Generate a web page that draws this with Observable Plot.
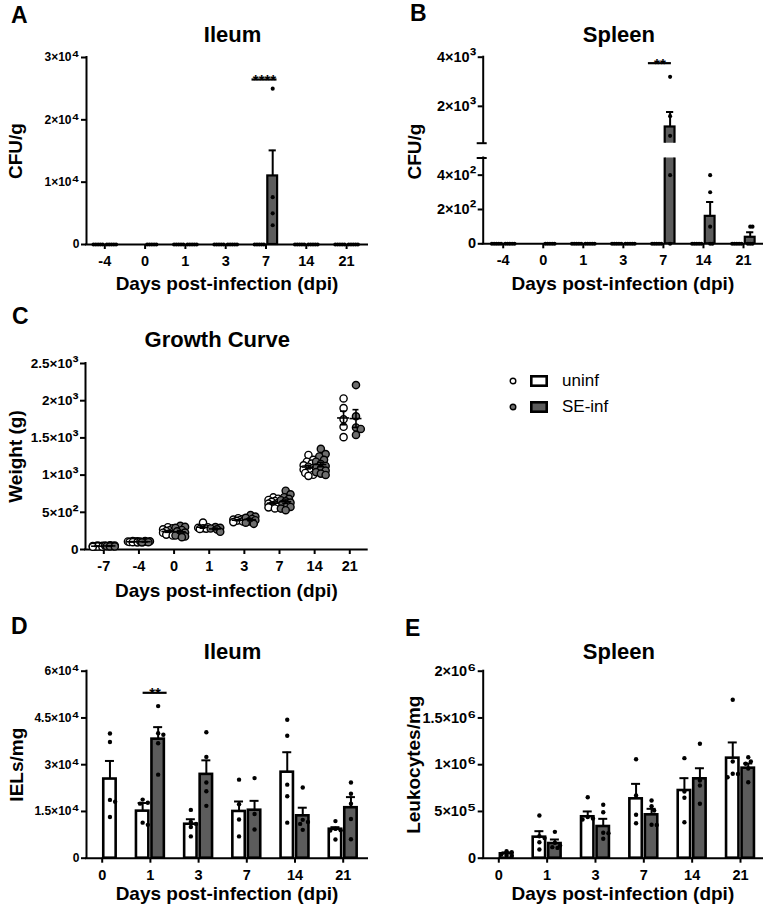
<!DOCTYPE html>
<html>
<head>
<meta charset="utf-8">
<script src="https://cdn.jsdelivr.net/npm/d3@7"></script>
<script src="https://cdn.jsdelivr.net/npm/@observablehq/plot@0.6"></script>
<style>
  html, body { margin: 0; padding: 0; background: #fff; }
  #fig { position: relative; width: 767px; height: 907px; overflow: hidden; background: #fff;
         font-family: 'Liberation Sans', Arial, Helvetica, sans-serif; }
  .legrow { position: absolute; height: 20px; display: flex; align-items: center; }
  .legrow span { font-size: 17px; color: #000; }
</style>
</head>
<body>
<div id="fig"></div>
<script>
// ------------------------------------------------------------------ DATA
const GROUPS = ["uninf", "SE-inf"];

// Panel A – Ileum CFU/g
const cfuDays = ["-4", "0", "1", "3", "7", "14", "21"];
const ileumCfuUninfDots = [[0,0,0,0,0],[0,0,0,0,0],[0,0,0,0,0],[0,0,0,0,0],[0,0,0,0,0],[0,0,0,0,0],[0,0,0,0,0]];
const ileumCfuInfDots   = [[0,0,0,0,0], null, [0,0,0,0,0],[0,0,0,0,0],[25000,7600,5000,3100],[0,0,0,0,0],[0,0,0,0,0]];
const ileumCfuUninfMean = [0,0,0,0,0,0,0];
const ileumCfuUninfSem  = [0,0,0,0,0,0,0];
const ileumCfuInfMean   = [0,null,0,0,11000,0,0];
const ileumCfuInfSem    = [0,null,0,0,4100,0,0];
const ileumCfuTicks      = [0, 10000, 20000, 30000];
const ileumCfuTickLabels = ["0", "1×10⁴", "2×10⁴", "3×10⁴"];
const ileumCfuSig = [{day: "7", label: "****", y: 26470}];

// Panel B – Spleen CFU/g (broken axis)
const spleenCfuUninfDots = [[0,0,0,0,0],[0,0,0,0,0],[0,0,0,0,0],[0,0,0,0,0],[0,0,0,0,0],[0,0,0,0,0],[0,0,0,0,0]];
const spleenCfuInfDots   = [[0,0,0,0,0], null, [0,0,0,0,0],[0,0,0,0,0],[3200,1600,800,400,0],[400,300,100,0,0],[100,100,0,0,0]];
const spleenCfuUninfMean = [0,0,0,0,0,0,0];
const spleenCfuUninfSem  = [0,0,0,0,0,0,0];
const spleenCfuInfMean   = [0,null,0,0,1160,160,38];
const spleenCfuInfSem    = [0,null,0,0,610,83,30];
const spleenCfuBreak     = 500;
const spleenCfuLowTicks       = [0, 200, 400];
const spleenCfuLowTickLabels  = ["0", "2×10²", "4×10²"];
const spleenCfuHighTicks      = [2000, 4000];
const spleenCfuHighTickLabels = ["2×10³", "4×10³"];
const spleenCfuSig = [{day: "7", label: "**", y: 3757}];

// Panel C – Growth curve (g)
const growthDays = ["-7", "-4", "0", "1", "3", "7", "14", "21"];
const growthUninf = [
  [48,42,45,38,52,44,40,50,36,46],
  [100,106,110,96,108,102,98,112,104],
  [300,285,270,258,248,236,225,214,200,188],
  [362,300,292,286,281,276],
  [420,410,402,394,386,378,368],
  [700,682,665,652,640,628,616,604,592,580,566,552],
  [1270,1205,1180,1155,1132,1112,1095,1075,1050,1028,1005,990],
  [2030,1900,1750,1650,1510]
];
const growthInf = [
  [50,46,54,42,48,44,56,40,52],
  [98,110,104,115,100,107,96],
  [318,304,290,262,244,228,204,188,176,166],
  [302,292,282,270,238],
  [462,442,426,410,394,376,360,345],
  [790,742,702,680,662,648,630,612,592,572,550,528],
  [1352,1282,1250,1205,1180,1150,1122,1100,1080,1060,1040,1020,1002],
  [2210,1790,1640,1620,1540]
];
const growthTicks      = [0, 500, 1000, 1500, 2000, 2500];
const growthTickLabels = ["0", "5×10²", "1×10³", "1.5×10³", "2×10³", "2.5×10³"];

// Panel D – Ileum IELs/mg
const ielDays = ["0", "1", "3", "7", "14", "21"];
const ielUninfDots = [[40000,37300,18700,18100,13200],[18800,17800,17500,11400,10700],[15500,11600,11000,10000,7000],
                      [25200,17300,12400,7000],[44400,39300,23600,19900,11400],[11900,9400,9000,8900,6000]];
const ielInfDots   = [null,[48800,40100,39600,36900,26800],[40400,32500,24300,21500,16800],
                      [25700,14200,9200],[22700,12300,11600,11000,9100],[24300,20700,17500,12600,6100]];
const ielUninfMean = [25400,15100,10900,15000,27600,9300];
const ielUninfSem  = [5800,2600,1600,3200,6400,650];
const ielInfMean   = [null,38200,26900,15400,13600,16200];
const ielInfSem    = [null,3850,4500,3000,2600,3400];
const ielTicks      = [0, 15000, 30000, 45000, 60000];
const ielTickLabels = ["0", "1.5×10⁴", "3×10⁴", "4.5×10⁴", "6×10⁴"];
const ielSig = [{day: "1", label: "**", y: 53070}];

// Panel E – Spleen leukocytes/mg
const leukDays = ["0", "1", "3", "7", "14", "21"];
const leukUninfDots = [[75000,64000,40000,30000,25000],[457000,235000,215000,171000,93000],[652000,440000,425000,414000],
                       [1059000,671000,464000,374000],[1070000,713000,646000,385000],[1694000,1034000,903000,866000,900000]];
const leukInfDots   = [null,[282000,165000,136000,118000,110000],[571000,492000,272000,268000,208000],
                       [617000,556000,510000,357000,355000],[1224000,831000,778000,582000],[1080000,1034000,1010000,960000,813000]];
const leukUninfMean = [47000,225000,443000,635000,724000,1070000];
const leukUninfSem  = [15000,64000,57000,160000,132000,168000];
const leukInfMean   = [null,157000,339000,464000,849000,963000];
const leukInfSem    = [null,43000,82000,64000,113000,50000];
const leukTicks      = [0, 500000, 1000000, 1500000, 2000000];
const leukTickLabels = ["0", "5×10⁵", "1×10⁶", "1.5×10⁶", "2×10⁶"];

// ------------------------------------------------------------------ STYLE / LAYOUT
const W = 767, H = 907;
const FONT = "'Liberation Sans', Arial, Helvetica, sans-serif";
const GRAY = "#5c5c5c";
const DOTGRAY = "#6e6e6e";
const fig = document.getElementById("fig");

function mk(f) {
  const p = Object.assign({}, f);
  p.xlo = (f.left - f.c0) / f.step;
  p.xhi = (f.right - f.c0) / f.step;
  p.kx = 1 / f.step;
  p.ky = (f.ydomain[1] - f.ydomain[0]) / (f.bottom - f.top);
  p.toPx = v => f.top + (f.ydomain[1] - v) / p.ky;
  return p;
}

// enlarge trailing superscript glyphs of tick labels (text stays the same characters)
function enlargeSuperscripts(svg) {
  svg.querySelectorAll("text").forEach(t => {
    if (t.children.length) return;
    const s = t.textContent;
    const m = s.match(/^(.*?)([⁰¹²³⁴⁵⁶⁷⁸⁹]+)$/);
    if (!m || !m[1]) return;
    t.textContent = "";
    t.appendChild(document.createTextNode(m[1]));
    const ts = document.createElementNS("http://www.w3.org/2000/svg", "tspan");
    ts.setAttribute("font-size", "135%");
    ts.textContent = m[2];
    t.appendChild(ts);
  });
}

function render(p, marks) {
  const svg = Plot.plot({
    width: W, height: H,
    marginLeft: p.left, marginRight: W - p.right, marginTop: p.top, marginBottom: H - p.bottom,
    x: {type: "linear", domain: [p.xlo, p.xhi], axis: null},
    y: {type: "linear", domain: p.ydomain, axis: null},
    marks
  });
  svg.setAttribute("style", `position:absolute;left:0;top:0;background:transparent;overflow:visible;font-family:${FONT};`);
  enlargeSuperscripts(svg);
  fig.appendChild(svg);
}

function yAxisMarks(p, ticks, labels, fs, lineDomain) {
  const d = lineDomain || p.ydomain;
  return [
    Plot.ruleX([p.xlo], {x: v => v, y1: d[0], y2: d[1], stroke: "black", strokeWidth: 2, strokeLinecap: "square"}),
    Plot.ruleY(ticks, {y: v => v, x1: p.xlo - 5 * p.kx, x2: p.xlo, stroke: "black", strokeWidth: 2}),
    Plot.text(ticks, {x: p.xlo, y: v => v, text: (v, i) => labels[i], textAnchor: "end", dx: -7,
                      fontSize: fs, fontWeight: "bold", fill: "black"})
  ];
}

function xAxisMarks(p, cats, fs) {
  const idx = d3.range(cats.length);
  const y0 = p.ydomain[0];
  return [
    Plot.ruleY([y0], {y: v => v, x1: p.xlo, x2: p.xhi, stroke: "black", strokeWidth: 2, strokeLinecap: "square"}),
    Plot.ruleX(idx, {x: v => v, y1: y0, y2: y0 - 5 * p.ky, stroke: "black", strokeWidth: 2}),
    Plot.text(idx, {x: v => v, y: y0, text: i => cats[i], dy: 17, fontSize: fs, fontWeight: "bold", fill: "black"})
  ];
}

function frameText(str, anchor, dx, dy, o) {
  return Plot.text([str], Object.assign({text: s => s, frameAnchor: anchor, dx, dy, fill: "black"}, o));
}

// compact beeswarm: horizontal offsets (px) limited to +-maxOff
function swarm(vals, toPx, rad, step, maxOff) {
  const n = Math.floor(maxOff / step + 1e-6);
  const cands = [0];
  for (let k = 1; k <= n; k++) cands.push(k * step, -k * step);
  const placed = [], out = [];
  vals.forEach(v => {
    const py = toPx(v);
    let best = 0, bestD = -1;
    for (const off of cands) {
      const d = placed.length ? Math.min(...placed.map(q => Math.hypot(q[0] - off, q[1] - py))) : Infinity;
      if (d >= 2 * rad - 0.01) { best = off; bestD = d; break; }
      if (d > bestD) { bestD = d; best = off; }
    }
    placed.push([best, py]);
    out.push(best);
  });
  return out;
}

function buildRows(days, dotsU, dotsI, meanU, semU, meanI, semI) {
  const rows = [];
  days.forEach((d, i) => {
    const single = (dotsU[i] == null) !== (dotsI[i] == null);
    [[0, dotsU, meanU, semU], [1, dotsI, meanI, semI]].forEach(([g, dots, means, sems]) => {
      if (dots[i] == null) return;
      const slot = single ? 1 : (g === 0 ? -1 : 1);
      const mean = means ? means[i] : d3.mean(dots[i]);
      const sem = sems ? sems[i] : d3.deviation(dots[i]) / Math.sqrt(dots[i].length);
      rows.push({i, day: d, group: GROUPS[g], slot, dots: dots[i], mean, sem});
    });
  });
  return rows;
}

function dotRows(p, rows, st, toPx) {
  const out = [];
  rows.forEach(r => {
    const base = r.i + r.slot * st.off * p.kx;
    const sorted = r.dots.slice().sort((a, b) => b - a);
    const offs = swarm(sorted, toPx, st.rad, st.sstep, st.maxOff);
    sorted.forEach((v, k) => out.push({x: base + offs[k] * p.kx, v, group: r.group}));
  });
  return out;
}

function barMarks(p, rows, st, clip) {
  const cx = r => r.i + r.slot * st.off * p.kx;
  const hw = st.hw * p.kx, ch = st.cap * p.kx;
  const shown = rows.filter(r => r.mean > 0);
  const opt = (fill) => ({x1: r => cx(r) - hw, x2: r => cx(r) + hw, y1: 0, y2: "mean",
                          fill, stroke: "black", strokeWidth: st.sw, clip: !!clip});
  return [
    Plot.rect(shown.filter(r => r.group === "uninf"), opt("white")),
    Plot.rect(shown.filter(r => r.group !== "uninf"), opt(GRAY)),
    Plot.ruleX(shown, {x: cx, y1: "mean", y2: r => r.mean + r.sem, stroke: "black", strokeWidth: 2, clip: !!clip}),
    Plot.ruleY(shown, {y: r => r.mean + r.sem, x1: r => cx(r) - ch, x2: r => cx(r) + ch,
                       stroke: "black", strokeWidth: 2, clip: !!clip})
  ];
}

function sigMarks(p, sig, days, span) {
  const data = sig.map(s => Object.assign({i: days.indexOf(s.day)}, s));
  return [
    Plot.ruleY(data, {y: "y", x1: s => s.i + span[0] * p.kx, x2: s => s.i + span[1] * p.kx, stroke: "black", strokeWidth: 2.2}),
    Plot.text(data, {x: s => s.i + (span[0] + span[1]) / 2 * p.kx, y: "y", text: "label", lineAnchor: "bottom",
                     dy: 5.5, fontSize: 15, fontWeight: "bold", fill: "black"})
  ];
}

const titleStyle = {fontSize: 22, fontWeight: "bold", lineAnchor: "bottom"};
const letterStyle = {fontSize: 23, fontWeight: "bold", lineAnchor: "bottom"};
const xTitleStyle = {fontSize: 19, fontWeight: "bold", lineAnchor: "middle"};
const yTitleStyle = {fontSize: 19, fontWeight: "bold", lineAnchor: "middle", rotate: -90, textAnchor: "middle"};
const dotStyleSmall = {r: 2.05, fill: "black"};

// ------------------------------------------------------------------ PANEL A
{
  const p = mk({left: 86, right: 367, top: 57, bottom: 244, c0: 104.3, step: 40.3, ydomain: [0, 30000]});
  const st = {off: 6.7, hw: 4.9, cap: 3.6, sw: 2.2, rad: 1.15, sstep: 2.3, maxOff: 5};
  const rows = buildRows(cfuDays, ileumCfuUninfDots, ileumCfuInfDots, ileumCfuUninfMean, ileumCfuUninfSem, ileumCfuInfMean, ileumCfuInfSem);
  const dots = dotRows(p, rows, st, p.toPx);
  render(p, [
    ...yAxisMarks(p, ileumCfuTicks, ileumCfuTickLabels, 12),
    ...xAxisMarks(p, cfuDays, 14.5),
    ...barMarks(p, rows, st),
    Plot.dot(dots, {x: "x", y: "v", ...dotStyleSmall}),
    ...sigMarks(p, ileumCfuSig, cfuDays, [-14, 11]),
    frameText("Ileum", "top", 5.5, -15.5, titleStyle),
    frameText("A", "top-left", -75.5, -35, letterStyle),
    frameText("Days post-infection (dpi)", "bottom", 0, 39, xTitleStyle),
    frameText("CFU/g", "left", -71, 0, yTitleStyle)
  ]);
}

// ------------------------------------------------------------------ PANEL B (two stacked segments)
{
  const pu = mk({left: 482.7, right: 762, top: 56.7, bottom: 142.7, c0: 502.7, step: 40.05, ydomain: [spleenCfuBreak, 4000]});
  const pl = mk({left: 482.7, right: 762, top: 157.5, bottom: 243.3, c0: 502.7, step: 40.05, ydomain: [0, spleenCfuBreak]});
  const st = {off: 6.7, hw: 4.9, cap: 3.6, sw: 2.2, rad: 1.15, sstep: 2.3, maxOff: 5};
  const toPx = v => v <= spleenCfuBreak ? pl.toPx(v) : pu.toPx(v);
  const rows = buildRows(cfuDays, spleenCfuUninfDots, spleenCfuInfDots, spleenCfuUninfMean, spleenCfuUninfSem, spleenCfuInfMean, spleenCfuInfSem);
  const dots = dotRows(pl, rows, st, toPx);
  const capMarks = (p) => Plot.ruleY([spleenCfuBreak], {y: v => v, x1: p.xlo - 6 * p.kx, x2: p.xlo + 4 * p.kx, stroke: "black", strokeWidth: 2});
  render(pl, [
    ...yAxisMarks(pl, spleenCfuLowTicks, spleenCfuLowTickLabels, 14.5),
    capMarks(pl),
    ...xAxisMarks(pl, cfuDays, 14.5),
    ...barMarks(pl, rows, st, true),
    Plot.dot(dots.filter(d => d.v <= spleenCfuBreak), {x: "x", y: "v", ...dotStyleSmall}),
    frameText("Days post-infection (dpi)", "bottom", 0, 40, xTitleStyle),
    frameText("CFU/g", "top-left", -68, -6.5, yTitleStyle)
  ]);
  render(pu, [
    ...yAxisMarks(pu, spleenCfuHighTicks, spleenCfuHighTickLabels, 14.5),
    capMarks(pu),
    ...barMarks(pu, rows, st, true),
    Plot.dot(dots.filter(d => d.v > spleenCfuBreak), {x: "x", y: "v", ...dotStyleSmall}),
    ...sigMarks(pu, spleenCfuSig, cfuDays, [-15, 8]),
    frameText("Spleen", "top", -4, -15.2, titleStyle),
    frameText("B", "top-left", -73.2, -36.7, letterStyle)
  ]);
}

// ------------------------------------------------------------------ PANEL C
{
  const p = mk({left: 85, right: 366.7, top: 363, bottom: 549, c0: 103.3, step: 35.14, ydomain: [0, 2500]});
  const st = {off: 6.2, rad: 3.3, sstep: 1.6, maxOff: 4.8};
  const rows = buildRows(growthDays, growthUninf, growthInf, null, null, null, null);
  const dots = dotRows(p, rows, st, p.toPx);
  const cx = r => r.i + r.slot * st.off * p.kx;
  render(p, [
    ...yAxisMarks(p, growthTicks, growthTickLabels, 13.5),
    ...xAxisMarks(p, growthDays, 14.5),
    Plot.dot(dots.filter(d => d.group === "uninf"), {x: "x", y: "v", r: 3.6, fill: "white", stroke: "black", strokeWidth: 1.4}),
    Plot.dot(dots.filter(d => d.group !== "uninf"), {x: "x", y: "v", r: 3.6, fill: DOTGRAY, stroke: "black", strokeWidth: 1.4}),
    Plot.ruleY(rows, {y: "mean", x1: r => cx(r) - 6 * p.kx, x2: r => cx(r) + 6 * p.kx, stroke: "black", strokeWidth: 1.6}),
    Plot.ruleX(rows, {x: cx, y1: r => r.mean - r.sem, y2: r => r.mean + r.sem, stroke: "black", strokeWidth: 1.6}),
    Plot.ruleY(rows, {y: r => r.mean + r.sem, x1: r => cx(r) - 3 * p.kx, x2: r => cx(r) + 3 * p.kx, stroke: "black", strokeWidth: 1.6}),
    Plot.ruleY(rows, {y: r => r.mean - r.sem, x1: r => cx(r) - 3 * p.kx, x2: r => cx(r) + 3 * p.kx, stroke: "black", strokeWidth: 1.6}),
    frameText("Growth Curve", "top", -9, -16.5, titleStyle),
    frameText("C", "top-left", -73.5, -40, letterStyle),
    frameText("Days post-infection (dpi)", "bottom", 0, 41, xTitleStyle),
    frameText("Weight (g)", "left", -69.5, 0, yTitleStyle)
  ]);
}

// ------------------------------------------------------------------ PANEL D
{
  const p = mk({left: 86, right: 367, top: 670.7, bottom: 857.7, c0: 101.7, step: 48.2, ydomain: [0, 60000]});
  const st = {off: 7.75, hw: 6.2, cap: 4.5, sw: 2.6, rad: 2.3, sstep: 2.6, maxOff: 5.2};
  const rows = buildRows(ielDays, ielUninfDots, ielInfDots, ielUninfMean, ielUninfSem, ielInfMean, ielInfSem);
  const dots = dotRows(p, rows, st, p.toPx);
  render(p, [
    ...yAxisMarks(p, ielTicks, ielTickLabels, 12),
    ...xAxisMarks(p, ielDays, 14.5),
    ...barMarks(p, rows, st),
    Plot.dot(dots, {x: "x", y: "v", r: 2.2, fill: "black"}),
    ...sigMarks(p, ielSig, ielDays, [-7.3, 16.7]),
    frameText("Ileum", "top", 5.5, -12.7, titleStyle),
    frameText("D", "top-left", -75.5, -37.7, letterStyle),
    frameText("Days post-infection (dpi)", "bottom", 0, 35.3, xTitleStyle),
    frameText("IELs/mg", "left", -70, 0, yTitleStyle)
  ]);
}

// ------------------------------------------------------------------ PANEL E
{
  const p = mk({left: 482.7, right: 762, top: 670.7, bottom: 857.7, c0: 498.3, step: 48.34, ydomain: [0, 2000000]});
  const st = {off: 7.75, hw: 6.2, cap: 4.5, sw: 2.6, rad: 2.3, sstep: 2.6, maxOff: 5.2};
  const rows = buildRows(leukDays, leukUninfDots, leukInfDots, leukUninfMean, leukUninfSem, leukInfMean, leukInfSem);
  const dots = dotRows(p, rows, st, p.toPx);
  render(p, [
    ...yAxisMarks(p, leukTicks, leukTickLabels, 14.5),
    ...xAxisMarks(p, leukDays, 14.5),
    ...barMarks(p, rows, st),
    Plot.dot(dots, {x: "x", y: "v", r: 2.2, fill: "black"}),
    frameText("Spleen", "top", -4, -12.7, titleStyle),
    frameText("E", "top-left", -78.2, -35.7, letterStyle),
    frameText("Days post-infection (dpi)", "bottom", 0, 35.3, xTitleStyle),
    frameText("Leukocytes/mg", "left", -69, 0, yTitleStyle)
  ]);
}

// ------------------------------------------------------------------ LEGEND
{
  const LEFT = 505, TOP = 381, GAP = 25.5;
  const fills = {"uninf": ["white", "white"], "SE-inf": [DOTGRAY, GRAY]};
  GROUPS.forEach((g, k) => {
    const row = document.createElement("div");
    row.className = "legrow";
    row.style.left = LEFT + "px";
    row.style.top = (TOP + k * GAP - 10) + "px";
    const ns = "http://www.w3.org/2000/svg";
    const s = document.createElementNS(ns, "svg");
    s.setAttribute("width", "57"); s.setAttribute("height", "20");
    const c = document.createElementNS(ns, "circle");
    c.setAttribute("cx", "8"); c.setAttribute("cy", "10"); c.setAttribute("r", "2.8");
    c.setAttribute("fill", fills[g][0]); c.setAttribute("stroke", "black"); c.setAttribute("stroke-width", "1.4");
    const r = document.createElementNS(ns, "rect");
    r.setAttribute("x", "26.3"); r.setAttribute("y", "5.3"); r.setAttribute("width", "15.4"); r.setAttribute("height", "9.4");
    r.setAttribute("fill", fills[g][1]); r.setAttribute("stroke", "black"); r.setAttribute("stroke-width", "2.6");
    s.appendChild(c); s.appendChild(r);
    const t = document.createElement("span");
    t.textContent = g;
    row.appendChild(s); row.appendChild(t);
    fig.appendChild(row);
  });
}
</script>
</body>
</html>
